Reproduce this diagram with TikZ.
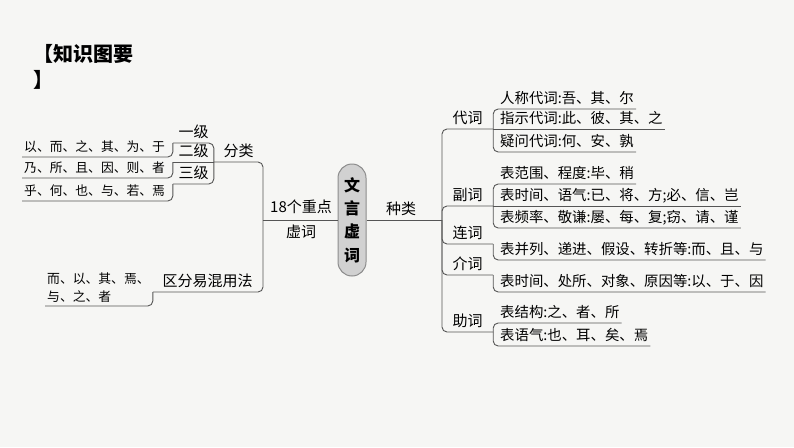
\documentclass[tikz,border=0pt]{standalone}
\usepackage{fontspec}
\setmainfont{Noto Sans CJK SC}
\definecolor{paper}{RGB}{246,246,244}
\definecolor{branch}{RGB}{85,85,85}

\begin{document}
\begin{tikzpicture}[x=1pt,y=-1pt,
    link/.style={draw=branch, line width=0.9pt, rounded corners=5pt},
    mid/.style={anchor=south, font=\fontsize{15}{18}\selectfont,
                text height=11pt, text depth=2pt, inner ysep=3pt, inner xsep=0pt},
    leaf/.style={anchor=south west, font=\fontsize{14.4}{17}\selectfont,
                 text height=11pt, text depth=2pt, inner ysep=3pt, inner xsep=2pt},
    wlist/.style={leaf, font=\fontsize{12.8}{18}\selectfont},
    hub/.style={rounded corners=14pt, draw=black!45, fill=black!18, line width=1pt,
                minimum width=28pt, minimum height=112pt, inner sep=0pt, align=center,
                font=\fontsize{16}{23.3}\selectfont\bfseries}]
    \fill[paper] (0,0) rectangle (794,447);
    \useasboundingbox (0,0) rectangle (794,447);

    \node[anchor=north west, inner sep=0pt, align=left,
          font=\fontsize{20}{26}\selectfont\bfseries] (title) at (33,44) {【知识图要\\】};

    \node[hub] (wy) at (352,220) {文\\言\\虚\\词};
    \coordinate (jl) at (263,220);
    \coordinate (jr) at (442,220);
    \node[font=\fontsize{15}{25}\selectfont, align=center, inner sep=0pt] (zd) at (301,219) {18个重点\\虚词};
    \node[mid] (zl) at (401,220) {种类};

    \node[mid, minimum width=49pt] (fl) at (238.5,162) {分类};
    \node[mid, minimum width=109pt] (qf) at (207.5,292) {区分易混用法};
    \node[mid, minimum width=41pt] (j1) at (193.5,143) {一级};
    \node[mid, minimum width=41pt] (j2) at (193.5,162) {二级};
    \node[mid, minimum width=41pt] (j3) at (193.5,184) {三级};
    \node[wlist] (w1) at (22,157) {以、而、之、其、为、于};
    \node[wlist] (w2) at (22,178) {乃、所、且、因、则、者};
    \node[wlist] (w3) at (22,201) {乎、何、也、与、若、焉};
    \node[anchor=south west, inner ysep=3pt, inner xsep=2pt, align=left,
          font=\fontsize{12.8}{18}\selectfont] (w4) at (45,306) {而、以、其、焉、\\与、之、者};

    \node[mid, minimum width=51pt] (dc) at (467.5,129) {代词};
    \node[mid, minimum width=51pt] (fc) at (467.5,206) {副词};
    \node[mid, minimum width=51pt] (lc) at (467.5,244) {连词};
    \node[mid, minimum width=51pt] (jc) at (467.5,275) {介词};
    \node[mid, minimum width=51pt] (zc) at (467.5,332) {助词};

    \node[leaf] (r1) at (498,109) {人称代词:吾、其、尔};
    \node[leaf] (r2) at (498,129) {指示代词:此、彼、其、之};
    \node[leaf] (r3) at (498,152) {疑问代词:何、安、孰};
    \node[leaf] (r4) at (498,184) {表范围、程度:毕、稍};
    \node[leaf] (r5) at (498,206) {表时间、语气:已、将、方;必、信、岂};
    \node[leaf] (r6) at (498,228) {表频率、敬谦:屡、每、复;窃、请、谨};
    \node[leaf] (r7) at (498,260) {表并列、递进、假设、转折等:而、且、与};
    \node[leaf] (r8) at (498,292) {表时间、处所、对象、原因等:以、于、因};
    \node[leaf] (r9) at (498,323) {表结构:之、者、所};
    \node[leaf] (r10) at (498,346) {表语气:也、耳、矣、焉};

    \draw[link] (wy.west) -- (jl);
    \draw[link] (wy.east) -- (jr);
    \draw[link] (jl) |- (fl.south west);
    \draw[link] (jl) |- (qf.south west);
    \draw[link] (fl.south west) |- (j1.south west);
    \draw[link] (fl.south west) -- (j2.south west);
    \draw[link] (fl.south west) |- (j3.south west);
    \draw[link] (j1.south west) |- (w1.south west);
    \draw[link] (j2.south west) |- (w2.south west);
    \draw[link] (j3.south west) |- (w3.south west);
    \draw[link] (qf.south west) |- (w4.south west);

    \draw[link] (jr) |- (dc.south east);
    \draw[link] (jr) |- (fc.south east);
    \draw[link] (jr) |- (lc.south east);
    \draw[link] (jr) |- (jc.south east);
    \draw[link] (jr) |- (zc.south east);
    \draw[link] (dc.south east) |- (r1.south east);
    \draw[link] (dc.south east) -- (r2.south east);
    \draw[link] (dc.south east) |- (r3.south east);
    \draw[link] (fc.south east) |- (r4.south east);
    \draw[link] (fc.south east) -- (r5.south east);
    \draw[link] (fc.south east) |- (r6.south east);
    \draw[link] (lc.south east) |- (r7.south east);
    \draw[link] (jc.south east) |- (r8.south east);
    \draw[link] (zc.south east) |- (r9.south east);
    \draw[link] (zc.south east) |- (r10.south east);
\end{tikzpicture}
\end{document}
